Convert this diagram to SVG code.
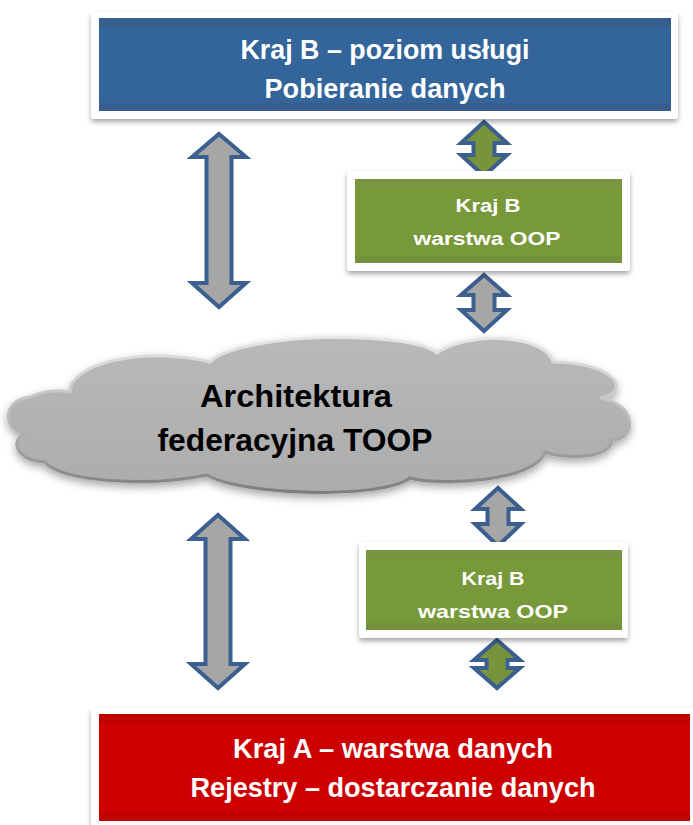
<svg xmlns="http://www.w3.org/2000/svg" width="693" height="825" viewBox="0 0 693 825">
<defs>
<filter id="sh" x="-10%" y="-10%" width="120%" height="130%">
<feDropShadow dx="0" dy="3" stdDeviation="2.5" flood-color="#000" flood-opacity="0.35"/>
</filter>
<filter id="csh" x="-10%" y="-10%" width="120%" height="130%">
<feDropShadow dx="0" dy="4" stdDeviation="4" flood-color="#000" flood-opacity="0.35"/>
</filter>
<linearGradient id="cedge" x1="0" y1="0" x2="0" y2="1">
<stop offset="0" stop-color="#e6e6e6"/>
<stop offset="0.5" stop-color="#bdbdbd"/>
<stop offset="1" stop-color="#7d7d7d"/>
</linearGradient>
<linearGradient id="cfill" x1="0" y1="0" x2="0" y2="1">
<stop offset="0" stop-color="#b9b9b9"/>
<stop offset="1" stop-color="#acacac"/>
</linearGradient>
</defs>
<style>
.frame{fill:#fff;filter:url(#sh)}
.t{font-family:"Liberation Sans",Arial,sans-serif;font-weight:bold;text-anchor:middle}
.w{fill:#fff}
.k{fill:#000}
.arr{stroke:#3b5f8e;stroke-width:4;stroke-linejoin:miter}
.g{fill:#a6a6a6}
.gr{fill:#77933c}
</style>
<rect width="693" height="825" fill="#fff"/>

<g id="conn">
<polygon class="arr g" points="219,134 246,157 231.5,157 231.5,283 246,283 219,307 192,283 206.5,283 206.5,157 192,157"/>
<polygon class="arr g" points="218,515 245,539 230.5,539 230.5,664 245,664 218,688 191,664 205.5,664 205.5,539 191,539"/>
<polygon class="arr gr" points="484,122 507,143 494.5,143 494.5,155 507,155 484,176 461,155 473.5,155 473.5,143 461,143"/>
<polygon class="arr g" points="484,275 507,295 494.5,295 494.5,310 507,310 484,331 461,310 473.5,310 473.5,295 461,295"/>
<polygon class="arr g" points="498,488 521,509 508.5,509 508.5,524 521,524 498,546 475,524 487.5,524 487.5,509 475,509"/>
<polygon class="arr gr" points="497,640 520,660 507.5,660 507.5,668 520,668 497,688 474,668 486.5,668 486.5,660 474,660"/>
</g>

<g id="top">
<rect class="frame" x="91" y="12" width="587" height="107" rx="3"/>
<rect x="99" y="18" width="572" height="93" fill="#33659a"/>
<rect x="99" y="18" width="572" height="9" fill="#375f8d"/>
<rect x="99" y="103" width="572" height="8" fill="#365e8c"/>
<text class="t w" x="385" y="59" font-size="27.5" textLength="289" lengthAdjust="spacingAndGlyphs">Kraj B – poziom usługi</text>
<text class="t w" x="385" y="98" font-size="27.5" textLength="241" lengthAdjust="spacingAndGlyphs">Pobieranie danych</text>
</g>

<g id="oop1">
<rect class="frame" x="347" y="171" width="283" height="100" rx="3"/>
<rect x="355" y="179" width="267" height="84" fill="#77993a"/>
<rect x="355" y="179" width="267" height="7" fill="#7a9443"/>
<rect x="355" y="256" width="267" height="7" fill="#73903a"/>
<text class="t w" x="488" y="212" font-size="18.5" textLength="65" lengthAdjust="spacingAndGlyphs">Kraj B</text>
<text class="t w" x="487" y="245" font-size="18.5" textLength="147" lengthAdjust="spacingAndGlyphs">warstwa OOP</text>
</g>

<g id="cloud">
<path filter="url(#csh)" fill="url(#cfill)" stroke="url(#cedge)" stroke-width="3" d="M 25,433 C 2,430 2,400 30,397 C 45,390 60,390 70,392 C 70,365 140,345 210,362 C 240,332 410,330 437,353 C 470,330 545,335 553,362 C 610,362 635,390 600,398 C 640,405 635,440 612,440 C 612,458 565,460 545,452 C 535,482 440,486 410,478 C 380,500 240,495 207,475 C 150,487 60,482 45,462 C 15,460 10,440 25,433 Z"/>
<text class="t k" x="296" y="407" font-size="31" textLength="192" lengthAdjust="spacingAndGlyphs">Architektura</text>
<text class="t k" x="295" y="451" font-size="31" textLength="275" lengthAdjust="spacingAndGlyphs">federacyjna TOOP</text>
</g>

<g id="oop2">
<rect class="frame" x="359" y="542" width="269" height="96" rx="3"/>
<rect x="366" y="550" width="256" height="80" fill="#77993a"/>
<rect x="366" y="550" width="256" height="7" fill="#7a9443"/>
<rect x="366" y="623" width="256" height="7" fill="#73903a"/>
<text class="t w" x="493" y="585" font-size="18.5" textLength="63" lengthAdjust="spacingAndGlyphs">Kraj B</text>
<text class="t w" x="493" y="618" font-size="18.5" textLength="150" lengthAdjust="spacingAndGlyphs">warstwa OOP</text>
</g>

<g id="bottom">
<rect class="frame" x="91" y="708" width="610" height="125" rx="3"/>
<rect x="99" y="714" width="591" height="107" fill="#cc0000"/>
<rect x="99" y="714" width="591" height="9" fill="#c00000"/>
<rect x="99" y="812" width="591" height="9" fill="#c20000"/>
<text class="t w" x="393" y="758" font-size="27.5" textLength="320" lengthAdjust="spacingAndGlyphs">Kraj A – warstwa danych</text>
<text class="t w" x="393" y="797" font-size="27.5" textLength="405" lengthAdjust="spacingAndGlyphs">Rejestry – dostarczanie danych</text>
</g>
</svg>
